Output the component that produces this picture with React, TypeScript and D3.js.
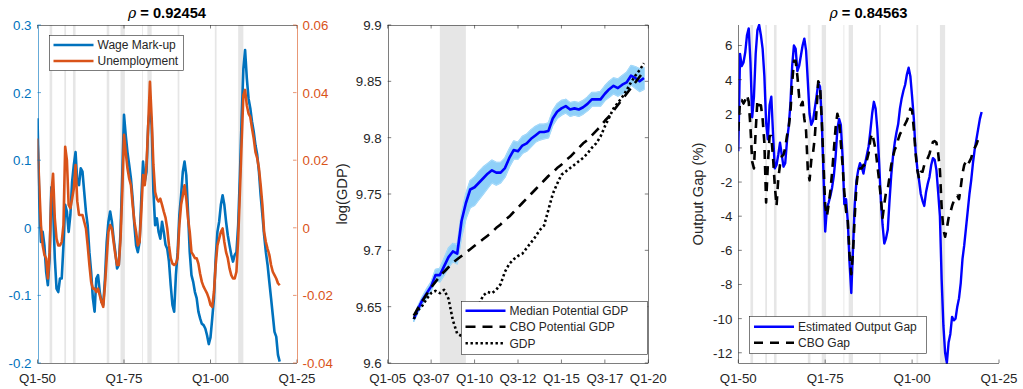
import React from "react";
import * as d3 from "d3";

const FONT = "'Liberation Sans', Arial, Helvetica, sans-serif";
const INK = "#262626";
const BLUE_L = "#0072BD";
const ORANGE = "#D95319";
const SHADE = "#E6E6E6";
const PURE_BLUE = "#0000FF";
const BAND_BLUE = "#8FD0F8";

const TOP = 25;
const BOTTOM = 363;
const TL = 3.5; // tick length (inward)
const TICK_FS = 13.3;
const LEG_FS = 12;

// NBER recession spans, decimal years
const recessions: [number, number][] = [
  [1953.5, 1954.25], [1957.75, 1958.25], [1960.25, 1961.0], [1970.0, 1970.75],
  [1974.0, 1975.25], [1980.25, 1980.5], [1981.75, 1983.0], [1990.5, 1991.0],
  [2001.25, 2001.75], [2008.0, 2009.5],
];

// ---------- Panel 1: wage mark-up vs unemployment (half-yearly from 1950) ----------
const markupStart = 1950;
const markupStep = 0.5;
const wageMarkup = [
  0.162, 0.043, -0.021, -0.006, -0.026, -0.065, -0.085, -0.045, 0.060, 0.030,
  -0.045, -0.090, -0.095, -0.075, -0.075, -0.026, 0.034, 0.024, -0.006, 0.019,
  0.068, 0.093, 0.112, 0.068, 0.063, 0.088, 0.083, 0.053, 0.024, 0.004,
  -0.036, -0.065, -0.104, -0.124, -0.075, -0.070, -0.095, -0.110, -0.114, -0.075,
  -0.021, 0.009, 0.024, 0.009, -0.016, -0.036, -0.060, -0.055, -0.006, 0.078,
  0.167, 0.137, 0.112, 0.093, 0.073, 0.043, 0.004, -0.026, -0.036, -0.021,
  0.043, 0.098, 0.068, 0.083, 0.152, 0.178, 0.152, 0.053, 0.004, 0.014,
  -0.006, -0.016, 0.009, -0.006, -0.025, -0.031, -0.050, -0.085, -0.114, -0.124,
  -0.070, -0.036, 0.019, 0.048, 0.083, 0.098, 0.078, 0.024, -0.036, -0.070,
  -0.080, -0.095, -0.104, -0.124, -0.134, -0.142, -0.144, -0.149, -0.159, -0.172,
  -0.162, -0.134, -0.104, -0.045, -0.006, 0.009, 0.034, 0.048, 0.034, 0.009,
  -0.011, -0.026, -0.040, -0.050, -0.040, -0.036, 0.004, 0.078, 0.162, 0.235,
  0.263, 0.221, 0.191, 0.177, 0.157, 0.142, 0.122, 0.108, 0.083, 0.048,
  0.019, -0.011, -0.036, -0.055, -0.080, -0.104, -0.129, -0.154, -0.161, -0.188,
  -0.198,
];
const unemployment = [
  0.0264, 0.0126, 0.0008, -0.0052, -0.0080, -0.0090, -0.0150, -0.0072, 0.0100, 0.0160,
  0.0028, -0.0032, -0.0052, -0.0052, -0.0042, 0.0008, 0.0240, 0.0200, 0.0068, 0.0058,
  0.0086, 0.0116, 0.0186, 0.0078, 0.0038, 0.0038, 0.0038, 0.0018, -0.0002, -0.0052,
  -0.0110, -0.0160, -0.0180, -0.0180, -0.0190, -0.0180, -0.0200, -0.0220, -0.0234, -0.0170,
  -0.0090, -0.0012, 0.0008, -0.0002, -0.0042, -0.0080, -0.0110, -0.0110, -0.0032, 0.0106,
  0.0275, 0.0224, 0.0176, 0.0146, 0.0126, 0.0068, 0.0018, -0.0012, -0.0052, -0.0042,
  0.0048, 0.0156, 0.0126, 0.0186, 0.0304, 0.0432, 0.0324, 0.0186, 0.0106, 0.0086,
  0.0078, 0.0086, 0.0068, 0.0048, 0.0030, -0.0002, -0.0052, -0.0090, -0.0106, -0.0110,
  -0.0106, -0.0090, 0.0008, 0.0068, 0.0096, 0.0126, 0.0086, 0.0028, -0.0012, -0.0072,
  -0.0080, -0.0090, -0.0090, -0.0106, -0.0136, -0.0160, -0.0174, -0.0184, -0.0194, -0.0208,
  -0.0228, -0.0234, -0.0190, -0.0110, -0.0052, -0.0032, -0.0012, -0.0002, -0.0042, -0.0072,
  -0.0090, -0.0120, -0.0140, -0.0150, -0.0150, -0.0130, -0.0032, 0.0106, 0.0254, 0.0392,
  0.0408, 0.0362, 0.0338, 0.0328, 0.0294, 0.0264, 0.0224, 0.0206, 0.0176, 0.0126,
  0.0068, -0.0012, -0.0042, -0.0062, -0.0080, -0.0110, -0.0130, -0.0140, -0.0150, -0.0164,
  -0.0170,
];
const yearTicks = [1950, 1975, 2000, 2025];
const yearTickLabels = ["Q1-50", "Q1-75", "Q1-00", "Q1-25"];
const markupTicks = [0.3, 0.2, 0.1, 0, -0.1, -0.2];
const markupTickLabels = ["0.3", "0.2", "0.1", "0", "-0.1", "-0.2"];
const unempTicks = [0.06, 0.04, 0.02, 0, -0.02, -0.04];
const unempTickLabels = ["0.06", "0.04", "0.02", "0", "-0.02", "-0.04"];

// ---------- Panel 2: log GDP, quarterly from 2006Q3 ----------
const gdpStart = 2006.5;
const gdpStep = 0.25;
const medianPotential = [
  9.639, 9.648,
  9.656, 9.662, 9.668, 9.678,
  9.678, 9.686, 9.694, 9.699,
  9.697, 9.726, 9.742, 9.754,
  9.756, 9.760, 9.764, 9.768,
  9.771, 9.769, 9.769, 9.773,
  9.782, 9.789, 9.788, 9.793,
  9.795, 9.799, 9.802, 9.805,
  9.805, 9.806, 9.817, 9.823,
  9.826, 9.828, 9.825, 9.826,
  9.825, 9.827, 9.830, 9.834,
  9.834, 9.834, 9.839, 9.843,
  9.846, 9.844, 9.847, 9.849,
  9.855, 9.853, 9.850, 9.853,
];
const potentialUpper = [
  9.641, 9.651,
  9.659, 9.666, 9.672, 9.683,
  9.684, 9.693, 9.702, 9.706,
  9.705, 9.733, 9.750, 9.762,
  9.765, 9.770, 9.774, 9.777,
  9.780, 9.778, 9.778, 9.782,
  9.790, 9.797, 9.796, 9.801,
  9.803, 9.807, 9.810, 9.812,
  9.812, 9.813, 9.824, 9.830,
  9.833, 9.834, 9.831, 9.832,
  9.831, 9.833, 9.836, 9.840,
  9.840, 9.841, 9.846, 9.850,
  9.853, 9.852, 9.855, 9.858,
  9.864, 9.863, 9.861, 9.862,
];
const potentialLower = [
  9.637, 9.645,
  9.652, 9.658, 9.664, 9.673,
  9.672, 9.678, 9.685, 9.690,
  9.688, 9.712, 9.728, 9.738,
  9.740, 9.745, 9.750, 9.755,
  9.760, 9.758, 9.760, 9.765,
  9.774, 9.781, 9.781, 9.786,
  9.788, 9.792, 9.796, 9.798,
  9.799, 9.800, 9.811, 9.817,
  9.820, 9.822, 9.819, 9.820,
  9.819, 9.821, 9.824, 9.828,
  9.828, 9.828, 9.833, 9.836,
  9.839, 9.837, 9.839, 9.841,
  9.847, 9.844, 9.841, 9.843,
];
const cboPotential = [
  9.642, 9.649,
  9.655, 9.661, 9.667, 9.672,
  9.677, 9.681, 9.685, 9.689,
  9.692, 9.695, 9.698, 9.701,
  9.704, 9.707, 9.710, 9.713,
  9.716, 9.720, 9.723, 9.727,
  9.730, 9.734, 9.738, 9.742,
  9.746, 9.750, 9.754, 9.758,
  9.762, 9.766, 9.769, 9.773,
  9.776, 9.780, 9.783, 9.787,
  9.791, 9.795, 9.798, 9.802,
  9.806, 9.810, 9.815, 9.819,
  9.824, 9.829, 9.834, 9.839,
  9.844, 9.849, 9.854, 9.859,
];
const gdp = [
  9.639, 9.647,
  9.651, 9.657, 9.662, 9.664,
  9.662, 9.665, 9.657, 9.638,
  9.626, 9.624, 9.627, 9.637,
  9.645, 9.652, 9.660, 9.663,
  9.662, 9.665, 9.670, 9.681,
  9.688, 9.692, 9.695, 9.697,
  9.702, 9.707, 9.712, 9.718,
  9.722, 9.736, 9.750, 9.759,
  9.767, 9.770, 9.773, 9.776,
  9.779, 9.782, 9.786, 9.791,
  9.795, 9.801, 9.810, 9.818,
  9.826, 9.831, 9.836, 9.842,
  9.849, 9.855, 9.860, 9.866,
];
const quarterTicks = [2005, 2007.5, 2010, 2012.5, 2015, 2017.5, 2020];
const quarterTickLabels = ["Q1-05", "Q3-07", "Q1-10", "Q3-12", "Q1-15", "Q3-17", "Q1-20"];
const logTicks = [9.9, 9.85, 9.8, 9.75, 9.7, 9.65, 9.6];
const logTickLabels = ["9.9", "9.85", "9.8", "9.75", "9.7", "9.65", "9.6"];

// ---------- Panel 3: output gap (%), half-yearly from 1950 ----------
const gapStart = 1950;
const gapStep = 0.5;
const estimatedGap = [
  -0.2, 5.5, 4.8, 5.0, 5.6, 6.6, 7.0, 5.0, 1.8, 3.0,
  5.5, 6.9, 7.2, 6.6, 5.8, 4.2, 1.5, 0.5, 2.5, 3.0,
  0.8, -1.2, -1.0, -0.4, 0.3, -0.4, -1.1, -0.9, 0.4, 1.25,
  2.6, 4.8, 6.0, 5.8, 4.5, 4.8, 5.4, 6.0, 6.4, 5.7,
  3.9, 2.0, 1.35, 1.6, 2.3, 3.0, 3.8, 3.6, 1.7, -1.5,
  -4.9, -3.5, -3.2, -2.8, -2.3, -1.6, -0.5, 1.1, 1.7, 1.35,
  -0.5, -3.3, -3.0, -4.3, -6.7, -8.5, -5.9, -3.3, -1.9, -1.3,
  -0.9, -1.1, -1.5, -0.9, -0.4, 0.1, 1.0, 2.0, 2.7, 2.3,
  1.1, -0.8, -3.0, -4.5, -5.6, -5.3, -4.8, -3.1, -1.6, -0.5,
  0.3, 0.9, 1.4, 2.3, 2.9, 3.35, 3.7, 4.3, 4.7, 4.2,
  3.0, 1.7, -0.2, -1.2, -1.9, -2.7, -3.1, -3.4, -2.6, -2.1,
  -1.7, -1.0, -0.6, -0.7, -1.3, -2.6, -4.0, -7.7, -10.4, -12.0,
  -12.6, -11.4, -10.9, -9.9, -10.1, -10.0, -9.3, -8.8, -7.9, -6.5,
  -5.7, -4.7, -3.7, -2.7, -1.9, -0.9, -0.1, 0.5, 1.1, 1.7,
  2.1,
];
const cboGap = [
  1.0, 2.8, 2.8, 2.6, 2.8, 3.1, 2.7, 1.2, -0.8, -1.2,
  1.0, 2.8, 2.5, 2.5, 1.7, 0.3, -3.2, -1.0, 0.7, 0.7,
  -0.6, -2.2, -3.4, -1.8, -1.0, -0.5, -0.4, 0.0, 0.7, 1.2,
  2.1, 3.8, 5.1, 5.1, 4.2, 3.0, 2.5, 2.7, 1.7, 1.0,
  -1.3, -1.9, -0.7, -0.3, 0.6, 2.2, 3.9, 3.7, 1.7, -0.9,
  -3.4, -4.0, -3.3, -2.5, -1.4, -0.1, 1.2, 2.0, 1.6, 0.3,
  -1.0, -2.6, -3.7, -4.3, -6.3, -7.4, -6.1, -4.0, -2.2, -1.3,
  -1.2, -1.2, -1.0, -1.1, -0.7, -0.3, 0.5, 0.85, 0.4, -0.1,
  -1.0, -1.9, -2.9, -4.1, -3.3, -2.6, -2.4, -1.7, -1.0, -0.5,
  -0.1, 0.1, 0.5, 0.8, 1.0, 1.2, 1.4, 1.6, 1.9, 2.3,
  2.2, 1.1, -0.3, -1.3, -1.8, -1.4, -1.4, -1.0, -0.8, -0.6,
  -0.35, 0.05, 0.35, 0.4, 0.3, -0.3, -1.3, -3.5, -4.8, -5.2,
  -4.7, -4.1, -3.8, -3.4, -3.1, -2.9, -2.8, -3.0, -2.3, -1.5,
  -1.0, -0.8, -1.0, -0.8, -0.6, -0.2, 0.0, 0.2, 0.5, 0.7,
];
const gapTicks = [6, 4, 2, 0, -2, -4, -6, -8, -10, -12];
const gapTickLabels = ["6", "4", "2", "0", "-2", "-4", "-6", "-8", "-10", "-12"];

// ---------- scales ----------
const xLeft = d3.scaleLinear().domain([1950, 2025]).range([37.5, 297]);
const yMarkup = d3.scaleLinear().domain([-0.2, 0.3]).range([BOTTOM, TOP]);
const yUnemp = d3.scaleLinear().domain([-0.04, 0.06]).range([BOTTOM, TOP]);

const xMid = d3.scaleLinear().domain([2005, 2020]).range([387.7, 648.3]);
const yMid = d3.scaleLinear().domain([9.6, 9.9]).range([BOTTOM, TOP]);

const xRight = d3.scaleLinear().domain([1950, 2025]).range([738.3, 999]);
const yRight = d3.scaleLinear().domain([-12.6, 7.2]).range([BOTTOM, TOP]);

type Scale = d3.ScaleLinear<number, number>;

function seriesPath(values: number[], start: number, step: number, x: Scale, y: Scale): string {
  const line = d3
    .line<number>()
    .x((_, i) => x(start + i * step))
    .y((v) => y(v));
  return line(values) || "";
}

function bandPath(lo: number[], hi: number[], start: number, step: number, x: Scale, y: Scale): string {
  const area = d3
    .area<number>()
    .x((_, i) => x(start + i * step))
    .y0((_, i) => y(lo[i]))
    .y1((v) => y(v));
  return area(hi) || "";
}

const px = (v: number) => Math.round(v) + 0.5;

function Recessions({ x, from, to }: { x: Scale; from: number; to: number }) {
  return (
    <g>
      {recessions
        .filter(([a, b]) => b > from && a < to)
        .map(([a, b], i) => (
          <rect key={i} x={x(Math.max(a, from))} y={TOP} width={x(Math.min(b, to)) - x(Math.max(a, from))}
            height={BOTTOM - TOP} fill={SHADE} />
        ))}
    </g>
  );
}

function XAxis({ x, ticks, labels, top }: { x: Scale; ticks: number[]; labels: string[]; top: boolean }) {
  const [r0, r1] = x.range();
  return (
    <g>
      <line x1={r0} x2={r1} y1={px(BOTTOM)} y2={px(BOTTOM)} stroke={INK} strokeWidth={0.6} />
      {top && <line x1={r0} x2={r1} y1={px(TOP)} y2={px(TOP)} stroke={INK} strokeWidth={0.6} />}
      {ticks.map((t, i) => (
        <g key={i}>
          <line x1={x(t)} x2={x(t)} y1={BOTTOM} y2={BOTTOM - TL} stroke={INK} strokeWidth={0.6} />
          {top && <line x1={x(t)} x2={x(t)} y1={TOP} y2={TOP + TL} stroke={INK} strokeWidth={0.6} />}
          <text x={x(t)} y={BOTTOM + 20} textAnchor="middle" fontSize={TICK_FS} fill={INK}>
            {labels[i]}
          </text>
        </g>
      ))}
    </g>
  );
}

function YAxis({ y, xPos, side, ticks, labels, color, mirrorX }:
  { y: Scale; xPos: number; side: "left" | "right"; ticks: number[]; labels: string[]; color: string; mirrorX?: number }) {
  const dir = side === "left" ? 1 : -1;
  return (
    <g>
      <line x1={px(xPos)} x2={px(xPos)} y1={TOP} y2={BOTTOM} stroke={color} strokeWidth={0.6} />
      {mirrorX !== undefined && (
        <line x1={px(mirrorX)} x2={px(mirrorX)} y1={TOP} y2={BOTTOM} stroke={color} strokeWidth={0.6} />
      )}
      {ticks.map((t, i) => (
        <g key={i}>
          <line x1={xPos} x2={xPos + dir * TL} y1={y(t)} y2={y(t)} stroke={color} strokeWidth={0.6} />
          {mirrorX !== undefined && (
            <line x1={mirrorX} x2={mirrorX - TL} y1={y(t)} y2={y(t)} stroke={color} strokeWidth={0.6} />
          )}
          <text x={xPos - dir * 6} y={y(t)} dy="0.37em" textAnchor={side === "left" ? "end" : "start"}
            fontSize={TICK_FS} fill={color}>
            {labels[i]}
          </text>
        </g>
      ))}
    </g>
  );
}

function Title({ cx, value }: { cx: number; value: string }) {
  return (
    <text x={cx} y={18} textAnchor="middle" fontSize={14.7} fill="#000">
      <tspan fontStyle="italic" fontFamily="'DejaVu Serif', serif" fontSize={14}>ρ</tspan>
      <tspan fontWeight="bold">{" = " + value}</tspan>
    </text>
  );
}

type LegendItem = { label: string; color: string; width: number; dash?: string };

function Legend({ x0, y0, x1, y1, rows, items }:
  { x0: number; y0: number; x1: number; y1: number; rows: number[]; items: LegendItem[] }) {
  return (
    <g>
      <rect x={px(x0)} y={px(y0)} width={Math.round(x1 - x0)} height={Math.round(y1 - y0)} fill="#fff"
        stroke={INK} strokeWidth={0.6} />
      {items.map((it, i) => (
        <g key={i}>
          <line x1={x0 + 5} x2={x0 + 45} y1={rows[i]} y2={rows[i]} stroke={it.color} strokeWidth={it.width}
            strokeDasharray={it.dash} />
          <text x={x0 + 49} y={rows[i]} dy="0.36em" fontSize={LEG_FS} fill={INK}>{it.label}</text>
        </g>
      ))}
    </g>
  );
}

export default function App() {
  return (
    <svg width={1023} height={389} viewBox="0 0 1023 389" fontFamily={FONT}
      style={{ position: "absolute", left: 0, top: 0, background: "#fff", display: "block" }}>
      <defs>
        <clipPath id="clipL"><rect x={37.5} y={TOP} width={297 - 37.5} height={BOTTOM - TOP} /></clipPath>
        <clipPath id="clipM"><rect x={387.7} y={TOP} width={648.3 - 387.7} height={BOTTOM - TOP} /></clipPath>
        <clipPath id="clipR"><rect x={738.3} y={TOP - 1} width={999 - 738.3} height={BOTTOM - TOP + 2} /></clipPath>
      </defs>
      <rect x={0} y={0} width={1023} height={389} fill="#fff" />

      {/* ---- wage mark-up vs unemployment ---- */}
      <Recessions x={xLeft} from={1950} to={2025} />
      <g clipPath="url(#clipL)" fill="none" strokeLinejoin="round">
        <path d={seriesPath(wageMarkup, markupStart, markupStep, xLeft, yMarkup)} stroke={BLUE_L} strokeWidth={2.6} />
        <path d={seriesPath(unemployment, markupStart, markupStep, xLeft, yUnemp)} stroke={ORANGE} strokeWidth={2.6} />
      </g>
      <XAxis x={xLeft} ticks={yearTicks} labels={yearTickLabels} top={true} />
      <YAxis y={yMarkup} xPos={37.5} side="left" ticks={markupTicks} labels={markupTickLabels} color={BLUE_L} />
      <YAxis y={yUnemp} xPos={296.5} side="right" ticks={unempTicks} labels={unempTickLabels} color={ORANGE} />
      <Title cx={167} value="0.92454" />
      <Legend x0={48.5} y0={35} x1={182} y1={70} rows={[45, 61]}
        items={[
          { label: "Wage Mark-up", color: BLUE_L, width: 2.6 },
          { label: "Unemployment", color: ORANGE, width: 2.6 },
        ]} />

      {/* ---- log GDP ---- */}
      <Recessions x={xMid} from={2005} to={2020} />
      <g clipPath="url(#clipM)" fill="none" strokeLinejoin="round">
        <path d={bandPath(potentialLower, potentialUpper, gdpStart, gdpStep, xMid, yMid)} fill={BAND_BLUE}
          stroke={BAND_BLUE} strokeWidth={1.5} />
        <path d={seriesPath(potentialUpper, gdpStart, gdpStep, xMid, yMid)} stroke="#B5E0FB" strokeWidth={0.7} />
        <path d={seriesPath(potentialLower, gdpStart, gdpStep, xMid, yMid)} stroke="#B5E0FB" strokeWidth={0.7} />
        <path d={seriesPath(medianPotential, gdpStart, gdpStep, xMid, yMid)} stroke={PURE_BLUE} strokeWidth={2.6} />
        <path d={seriesPath(cboPotential, gdpStart, gdpStep, xMid, yMid)} stroke="#000" strokeWidth={2.6}
          strokeDasharray="10,7" />
        <path d={seriesPath(gdp, gdpStart, gdpStep, xMid, yMid)} stroke="#000" strokeWidth={2.6}
          strokeDasharray="2.4,2.6" />
      </g>
      <XAxis x={xMid} ticks={quarterTicks} labels={quarterTickLabels} top={true} />
      <YAxis y={yMid} xPos={387.7} side="left" ticks={logTicks} labels={logTickLabels} color={INK} mirrorX={648.3} />
      <text transform="translate(347,194) rotate(-90)" textAnchor="middle" fontSize={14.7} fill={INK}>log(GDP)</text>
      <Legend x0={460.5} y0={300.5} x1={646.5} y1={353.5} rows={[310.7, 326.7, 343.3]}
        items={[
          { label: "Median Potential GDP", color: PURE_BLUE, width: 2.6 },
          { label: "CBO Potential GDP", color: "#000", width: 2.6, dash: "10,7" },
          { label: "GDP", color: "#000", width: 2.6, dash: "2.4,2.6" },
        ]} />

      {/* ---- output gap ---- */}
      <Recessions x={xRight} from={1950} to={2025} />
      <g clipPath="url(#clipR)" fill="none" strokeLinejoin="round">
        <path d={seriesPath(estimatedGap, gapStart, gapStep, xRight, yRight)} stroke={PURE_BLUE} strokeWidth={2.4} />
        <path d={seriesPath(cboGap, gapStart, gapStep, xRight, yRight)} stroke="#000" strokeWidth={2.6}
          strokeDasharray="9,7" />
      </g>
      <XAxis x={xRight} ticks={yearTicks} labels={yearTickLabels} top={false} />
      <YAxis y={yRight} xPos={738.3} side="left" ticks={gapTicks} labels={gapTickLabels} color={INK} />
      <text transform="translate(703,194) rotate(-90)" textAnchor="middle" fontSize={14.7} fill={INK}>Output Gap (%)</text>
      <Title cx={868.5} value="0.84563" />
      <Legend x0={749} y0={316} x1={925.5} y1={352.5} rows={[326.7, 342.7]}
        items={[
          { label: "Estimated Output Gap", color: PURE_BLUE, width: 2.6 },
          { label: "CBO Gap", color: "#000", width: 2.6, dash: "9,7" },
        ]} />
    </svg>
  );
}
